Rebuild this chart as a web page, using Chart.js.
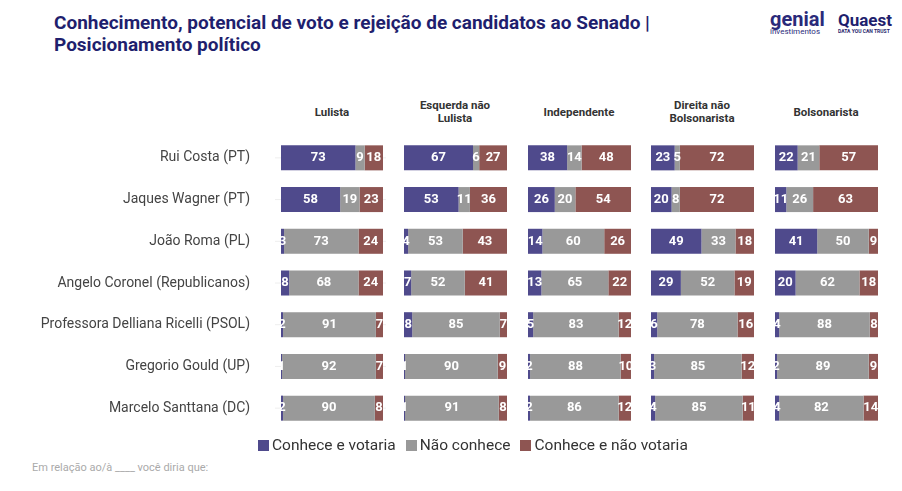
<!DOCTYPE html>
<html>
<head>
<meta charset="utf-8">
<script src="https://cdn.jsdelivr.net/npm/chart.js@4"></script>
<style>
  body { margin: 0; width: 902px; height: 491px; background: #fff; font-family: Roboto, sans-serif; position: relative; overflow: hidden; }
  .title { position: absolute; left: 54px; top: 12px; font-size: 19px; font-weight: bold; color: #1f1f6e; line-height: 22px; }
  .head { position: absolute; top: 98px; width: 120px; font-size: 11.5px; font-weight: bold; color: #333; text-align: center; line-height: 13px; height: 28px; display: flex; align-items: center; justify-content: center; }
  .box { position: absolute; }
  .legend { position: absolute; top: 436px; left: 258px; font-size: 15.5px; color: #333; display: flex; gap: 10px; }
  .legend span i { display: inline-block; width: 11px; height: 11px; margin-right: 3px; vertical-align: -1px; }
  .note { position: absolute; left: 32px; top: 461px; font-size: 11px; color: #aaa; }
  .logo1 { position: absolute; left: 770px; top: 10px; color: #2a2a7a; font-size: 20px; font-weight: bold; line-height: 18px; }
  .logo1 small { display: block; font-size: 8px; font-weight: normal; line-height: 8px; }
  .logo2 { position: absolute; left: 838px; top: 12px; color: #1f1f6e; font-size: 17px; font-weight: bold; line-height: 16px; }
  .logo2 small { display: block; font-size: 5px; line-height: 6px; }
</style>
</head>
<body>
<div class="title">Conhecimento, potencial de voto e rejeição de candidatos ao Senado |<br>Posicionamento político</div>
<div class="logo1">genial<small>investimentos</small></div>
<div class="logo2">Quaest<small>DATA YOU CAN TRUST</small></div>

<div class="head" style="left:272px">Lulista</div>
<div class="head" style="left:395px">Esquerda não<br>Lulista</div>
<div class="head" style="left:519px">Independente</div>
<div class="head" style="left:642px">Direita não<br>Bolsonarista</div>
<div class="head" style="left:766px">Bolsonarista</div>

<div class="box" style="left:0;top:0;width:386px;height:440px"><canvas id="c0"></canvas></div>
<div class="box" style="left:404px;top:0;width:103px;height:440px"><canvas id="c1"></canvas></div>
<div class="box" style="left:528px;top:0;width:103px;height:440px"><canvas id="c2"></canvas></div>
<div class="box" style="left:651px;top:0;width:103px;height:440px"><canvas id="c3"></canvas></div>
<div class="box" style="left:775px;top:0;width:103px;height:440px"><canvas id="c4"></canvas></div>

<div class="legend">
  <span><i style="background:#4f4a8c"></i>Conhece e votaria</span>
  <span><i style="background:#999999"></i>Não conhece</span>
  <span><i style="background:#8e5552"></i>Conhece e não votaria</span>
</div>
<div class="note">Em relação ao/à ____ você diria que:</div>

<script>
const candidates = ['Rui Costa (PT)', 'Jaques Wagner (PT)', 'João Roma (PL)', 'Angelo Coronel (Republicanos)',
  'Professora Delliana Ricelli (PSOL)', 'Gregorio Gould (UP)', 'Marcelo Santtana (DC)'];
const seriesNames = ['Conhece e votaria', 'Não conhece', 'Conhece e não votaria'];
const colors = ['#4f4a8c', '#999999', '#8e5552'];

// [votaria, não conhece, não votaria] per group
const lulistaVota = [73, 58, 3, 8, 2, 1, 2];
const lulistaNao = [9, 19, 73, 68, 91, 92, 90];
const lulistaRej = [18, 23, 24, 24, 7, 7, 8];

const esquerdaVota = [67, 53, 4, 7, 8, 1, 1];
const esquerdaNao = [6, 11, 53, 52, 85, 90, 91];
const esquerdaRej = [27, 36, 43, 41, 7, 9, 8];

const indepVota = [38, 26, 14, 13, 5, 2, 2];
const indepNao = [14, 20, 60, 65, 83, 88, 86];
const indepRej = [48, 54, 26, 22, 12, 10, 12];

const direitaVota = [23, 20, 49, 29, 6, 3, 4];
const direitaNao = [5, 8, 33, 52, 78, 85, 85];
const direitaRej = [72, 72, 18, 19, 16, 12, 11];

const bolsoVota = [22, 11, 41, 20, 4, 2, 4];
const bolsoNao = [21, 26, 50, 62, 88, 89, 82];
const bolsoRej = [57, 63, 9, 18, 8, 9, 14];

const groups = [
  [lulistaVota, lulistaNao, lulistaRej],
  [esquerdaVota, esquerdaNao, esquerdaRej],
  [indepVota, indepNao, indepRej],
  [direitaVota, direitaNao, direitaRej],
  [bolsoVota, bolsoNao, bolsoRej]
];

const valueLabels = {
  id: 'valueLabels',
  afterDatasetsDraw(chart) {
    const ctx = chart.ctx;
    ctx.save();
    ctx.font = 'bold 13px Roboto';
    ctx.fillStyle = '#fff';
    ctx.textAlign = 'center';
    ctx.textBaseline = 'middle';
    chart.data.datasets.forEach((ds, i) => {
      chart.getDatasetMeta(i).data.forEach((bar, j) => {
        const c = bar.getCenterPoint();
        ctx.fillText(ds.data[j], c.x, c.y);
      });
    });
    ctx.restore();
  }
};

// faint row guide + candidate names (first panel only)
const rowLines = {
  id: 'rowLines',
  beforeDatasetsDraw(chart, args, opts) {
    const ctx = chart.ctx, a = chart.chartArea, ys = chart.scales.y;
    ctx.save();
    ctx.strokeStyle = '#eeeeee';
    ctx.lineWidth = 1;
    chart.data.labels.forEach((lab, j) => {
      const y = ys.getPixelForValue(j);
      ctx.beginPath();
      ctx.moveTo(a.left - 6, y);
      ctx.lineTo(a.right + 6, y);
      ctx.stroke();
      if (opts.names) {
        ctx.fillStyle = '#444';
        ctx.font = '14px Roboto';
        ctx.textAlign = 'right';
        ctx.textBaseline = 'middle';
        ctx.fillText(lab, a.left - 31, y);
      }
    });
    ctx.restore();
  }
};

groups.forEach((g, k) => {
  new Chart(document.getElementById('c' + k), {
    type: 'bar',
    data: {
      labels: candidates,
      datasets: g.map((d, i) => ({
        label: seriesNames[i],
        data: d,
        backgroundColor: colors[i],
        barPercentage: 0.6,
        categoryPercentage: 1
      }))
    },
    options: {
      indexAxis: 'y',
      responsive: true,
      maintainAspectRatio: false,
      animation: false,
      layout: { padding: { top: 137, bottom: 11, left: k === 0 ? 281 : 0, right: k === 0 ? 3 : 0 } },
      plugins: { legend: { display: false }, tooltip: { enabled: false }, rowLines: { names: k === 0 } },
      scales: {
        x: { stacked: true, min: 0, max: 100, display: false },
        y: { stacked: true, display: false }
      }
    },
    plugins: [rowLines, valueLabels]
  });
});
</script>
</body>
</html>
